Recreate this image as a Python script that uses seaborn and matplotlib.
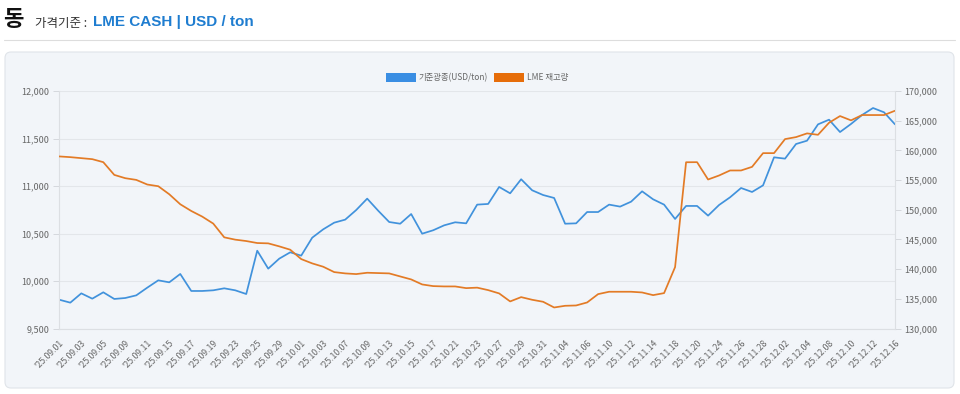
import matplotlib
matplotlib.use('Agg')
import matplotlib.pyplot as plt
import matplotlib.transforms as mtransforms
import seaborn as sns
import numpy as np
from matplotlib.patches import FancyBboxPatch, Patch
from matplotlib.lines import Line2D
from matplotlib.ticker import FuncFormatter, MultipleLocator

# ---------------- data ----------------
dates = [
    "'25.09.01", "'25.09.02", "'25.09.03", "'25.09.04", "'25.09.05", "'25.09.08", "'25.09.09", "'25.09.10",
    "'25.09.11", "'25.09.12", "'25.09.15", "'25.09.16", "'25.09.17", "'25.09.18", "'25.09.19", "'25.09.22",
    "'25.09.23", "'25.09.24", "'25.09.25", "'25.09.26", "'25.09.29", "'25.09.30",
    "'25.10.01", "'25.10.02", "'25.10.03", "'25.10.06", "'25.10.07", "'25.10.08", "'25.10.09", "'25.10.10",
    "'25.10.13", "'25.10.14", "'25.10.15", "'25.10.16", "'25.10.17", "'25.10.20", "'25.10.21", "'25.10.22",
    "'25.10.23", "'25.10.24", "'25.10.27", "'25.10.28", "'25.10.29", "'25.10.30", "'25.10.31",
    "'25.11.03", "'25.11.04", "'25.11.05", "'25.11.06", "'25.11.07", "'25.11.10", "'25.11.11", "'25.11.12",
    "'25.11.13", "'25.11.14", "'25.11.17", "'25.11.18", "'25.11.19", "'25.11.20", "'25.11.21", "'25.11.24",
    "'25.11.25", "'25.11.26", "'25.11.27", "'25.11.28",
    "'25.12.01", "'25.12.02", "'25.12.03", "'25.12.04", "'25.12.05", "'25.12.08", "'25.12.09", "'25.12.10",
    "'25.12.11", "'25.12.12", "'25.12.15", "'25.12.16",
]

price = [
    9803, 9772, 9870, 9814, 9881, 9811, 9821, 9849, 9930, 10007,
    9986, 10074, 9895, 9895, 9902, 9923, 9902, 9863, 10319, 10130,
    10235, 10302, 10267, 10456, 10544, 10614, 10646, 10747, 10867, 10740,
    10621, 10603, 10705, 10498, 10534, 10586, 10618, 10607, 10804, 10811,
    10990, 10923, 11071, 10955, 10905, 10874, 10603, 10607, 10726, 10726,
    10804, 10783, 10835, 10944, 10860, 10804, 10653, 10790, 10790, 10688,
    10800, 10881, 10979, 10937, 11007, 11302, 11288, 11442, 11477, 11649,
    11698, 11568, 11653, 11747, 11821, 11776, 11649,
]

stock = [
    158980, 158860, 158690, 158520, 158015, 155870, 155315, 155030, 154250, 153965,
    152610, 150925, 149795, 148845, 147670, 145355, 144965, 144730, 144395, 144340,
    143835, 143270, 141690, 140965, 140405, 139500, 139280, 139165, 139390, 139335,
    139280, 138770, 138265, 137420, 137140, 137085, 137085, 136800, 136880, 136465,
    135910, 134560, 135285, 134840, 134500, 133540, 133825, 133880, 134385, 135790,
    136190, 136190, 136190, 136070, 135620, 135960, 140340, 158000, 158015, 155095,
    155770, 156615, 156615, 157225, 159535, 159535, 161900, 162235, 162860, 162625,
    164650, 165780, 165055, 165950, 165950, 165950, 166675,
]

price_label = '기준광종(USD/ton)'
stock_label = 'LME 재고량'

# ---------------- style ----------------
sns.set_theme(style='white')
plt.rcParams['font.family'] = ['Noto Sans CJK KR', 'DejaVu Sans']

BLUE = '#4192dc'
ORANGE = '#e37b26'
BLUE_LEG = '#3a8ee3'
ORANGE_LEG = '#e66d0a'
PANEL = '#f2f5f9'
GRID = '#e3e6ea'
TXT = '#666666'

W, H = 960, 394
fig = plt.figure(figsize=(W / 100, H / 100), dpi=100)

# panel background
panel = FancyBboxPatch((5, H - 388), 949, 336,
                       boxstyle='round,pad=0,rounding_size=6',
                       transform=mtransforms.IdentityTransform(),
                       fc=PANEL, ec='#e0e4e9', lw=0.8, zorder=-10)
fig.patches.append(panel)

# header
fig.text(3 / W, 1 - 20 / H, '동', fontsize=16, fontweight='bold', color='#111111', va='center', ha='left')
fig.text(35 / W, 1 - 23 / H, '가격기준 :', fontsize=9, color='#333333', va='center', ha='left')
fig.text(93 / W, 1 - 22 / H, 'LME CASH | USD / ton', fontsize=11, fontweight='bold', color='#1f7dd0',
         va='center', ha='left', family=['Liberation Sans', 'DejaVu Sans'])
fig.lines.append(Line2D([4 / W, 955 / W], [1 - 40 / H, 1 - 40 / H], transform=fig.transFigure,
                        color='#dddddd', lw=0.8))

# axes
left, right, top, bottom = 59.3, 895, 91, 328.5
ax = fig.add_axes([left / W, 1 - bottom / H, (right - left) / W, (bottom - top) / H])
ax.set_facecolor(PANEL)
x = np.arange(len(dates))

sns.lineplot(x=x, y=price, ax=ax, color=BLUE, lw=1.25, legend=False)
ax2 = ax.twinx()
sns.lineplot(x=x, y=stock, ax=ax2, color=ORANGE, lw=1.25, legend=False)

ax.set_xlim(0, len(dates) - 1)
ax.set_ylim(9500, 12000)
ax2.set_ylim(130000, 170000)
ax.yaxis.set_major_locator(MultipleLocator(500))
ax2.yaxis.set_major_locator(MultipleLocator(5000))
fmt = FuncFormatter(lambda v, p: f'{int(v):,}')
ax.yaxis.set_major_formatter(fmt)
ax2.yaxis.set_major_formatter(fmt)

ax.set_xticks(x[::2])
ax.set_xticklabels(dates[::2], rotation=45, ha='right', rotation_mode='anchor')
offset = mtransforms.ScaledTranslation(2 / 100, 0, fig.dpi_scale_trans)
for lab in ax.get_xticklabels():
    lab.set_transform(lab.get_transform() + offset)
ax.set_xlabel('')
ax.set_ylabel('')
ax2.set_ylabel('')

ax.grid(axis='y', color=GRID, lw=0.8)
ax.grid(axis='x', visible=False)
ax2.grid(False)

for a in (ax, ax2):
    for s in a.spines.values():
        s.set_visible(False)
ax.spines['left'].set_visible(True)
ax.spines['bottom'].set_visible(True)
ax2.spines['right'].set_visible(True)
for s in (ax.spines['left'], ax.spines['bottom'], ax2.spines['right']):
    s.set_color('#dcdfe3')
    s.set_linewidth(0.8)

ax.tick_params(axis='x', length=0, pad=7, labelsize=6.3, labelcolor=TXT)
ax.tick_params(axis='y', length=4, width=0.6, color='#d0d3d8', pad=3, labelsize=6.5, labelcolor=TXT, left=True)
ax2.tick_params(axis='y', length=4, width=0.6, color='#d0d3d8', pad=3, labelsize=6.5, labelcolor=TXT, right=True)

handles = [Patch(fc=BLUE_LEG, ec='none', label=price_label),
           Patch(fc=ORANGE_LEG, ec='none', label=stock_label)]
leg = ax2.legend(handles=handles, loc='center', bbox_to_anchor=(0.5, 1.055), ncol=2, frameon=False,
                 fontsize=6, handlelength=3.6, handleheight=1.2, handletextpad=0.4, columnspacing=0.7,
                 borderaxespad=0)
for t in leg.get_texts():
    t.set_color(TXT)

fig.savefig('out.png', dpi=100, facecolor='white')
